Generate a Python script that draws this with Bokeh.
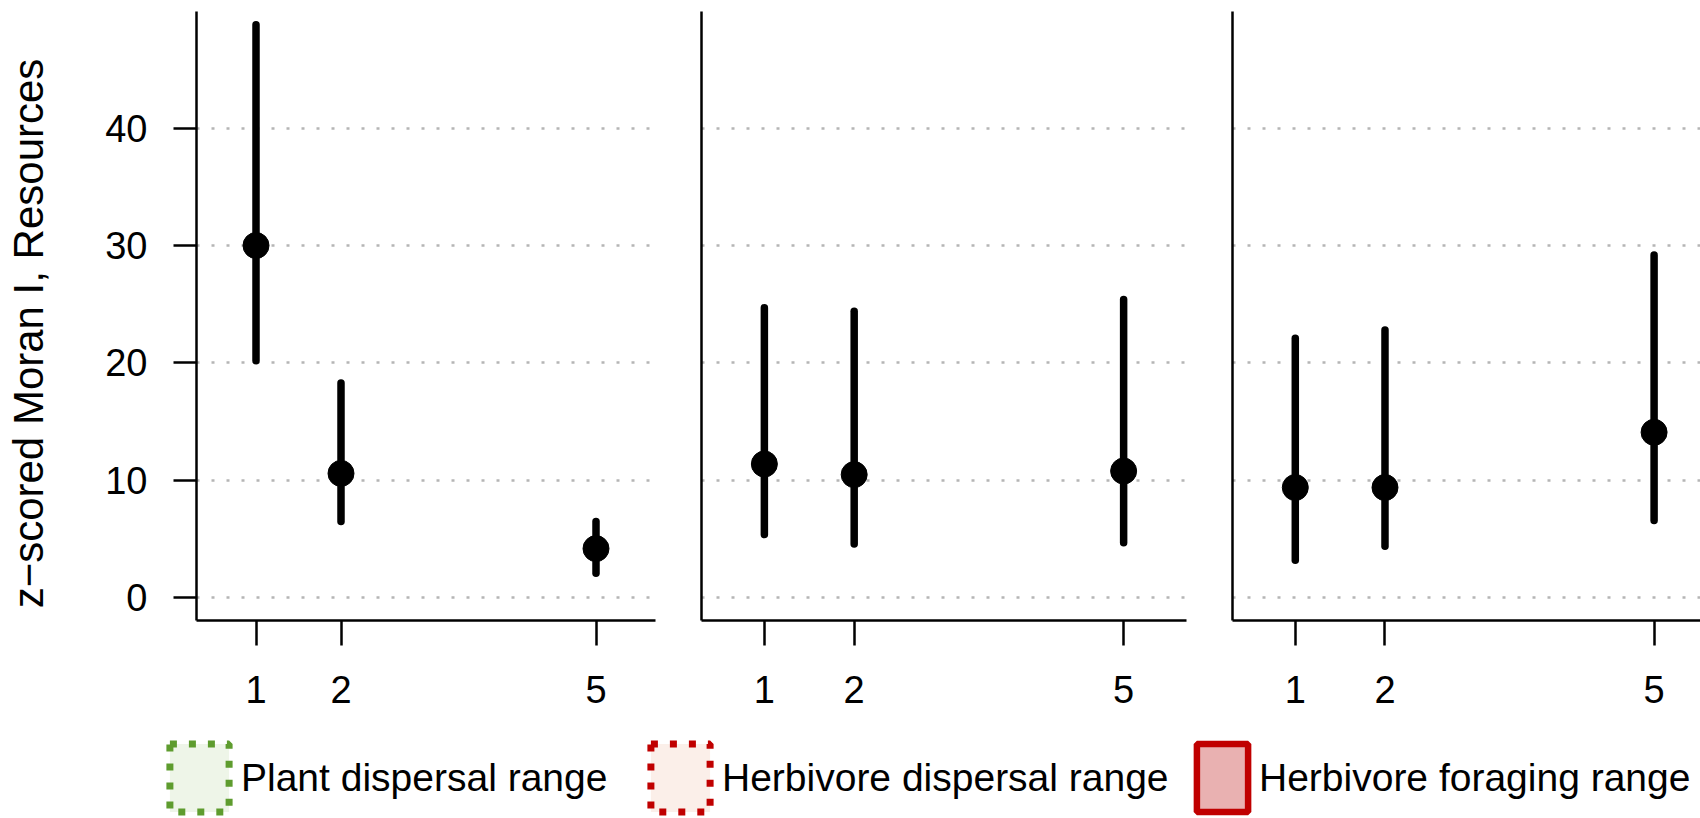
from bokeh.plotting import figure
from bokeh.models import Range1d, FixedTicker, ColumnDataSource, Legend, LegendItem
from bokeh.layouts import column, row
from bokeh.embed import file_html
from bokeh.resources import INLINE

# ---------------- data ----------------
x_levels = [1, 2, 5]
x_tick_labels = ["1", "2", "5"]
y_ticks = [0, 10, 20, 30, 40]
y_label = "z\u2212scored Moran I, Resources"

plant_mid = [30.0, 10.6, 4.2]
plant_lo = [20.2, 6.5, 2.1]
plant_hi = [48.8, 18.3, 6.5]

herb_disp_mid = [11.4, 10.5, 10.8]
herb_disp_lo = [5.4, 4.6, 4.7]
herb_disp_hi = [24.7, 24.4, 25.4]

herb_forage_mid = [9.4, 9.4, 14.1]
herb_forage_lo = [3.2, 4.4, 6.6]
herb_forage_hi = [22.1, 22.8, 29.2]

legend_labels = ["Plant dispersal range", "Herbivore dispersal range", "Herbivore foraging range"]

FONT = "Liberation Sans"
PANEL_H = 723
LEGEND_H = 95


def panel(mid, lo, hi, width, bl, br, xend, show_y):
    p = figure(width=width, height=PANEL_H,
               x_range=Range1d(0.3, xend), y_range=Range1d(-1.92, 49.92),
               output_backend="svg", toolbar_location=None,
               min_border_left=bl, min_border_right=br,
               min_border_top=11, min_border_bottom=PANEL_H - 620)
    p.outline_line_color = None
    p.background_fill_color = "white"
    p.border_fill_color = "white"
    p.xgrid.visible = False

    p.ygrid.ticker = FixedTicker(ticks=y_ticks)
    p.ygrid.grid_line_color = "#b5b5b5"
    p.ygrid.grid_line_dash = "3 12"
    p.ygrid.grid_line_width = 2.5

    xa = p.xaxis[0]
    xa.ticker = FixedTicker(ticks=x_levels)
    xa.major_label_overrides = {v: s for v, s in zip(x_levels, x_tick_labels)}
    xa.axis_line_width = 2.5
    xa.axis_line_color = "black"
    xa.major_tick_line_width = 2.5
    xa.major_tick_out = 25
    xa.major_tick_in = 0
    xa.minor_tick_line_color = None
    xa.major_label_standoff = 30
    xa.major_label_text_font = FONT
    xa.major_label_text_font_size = "38px"
    xa.major_label_text_color = "black"

    ya = p.yaxis[0]
    ya.axis_line_width = 2.5
    ya.axis_line_color = "black"
    ya.minor_tick_line_color = None
    if show_y:
        ya.ticker = FixedTicker(ticks=y_ticks)
        ya.major_tick_line_width = 2.5
        ya.major_tick_out = 23
        ya.major_tick_in = 0
        ya.major_label_standoff = 26
        ya.major_label_text_font = FONT
        ya.major_label_text_font_size = "38px"
        ya.major_label_text_color = "black"
        # trailing no-break spaces nudge the centred title slightly downward
        ya.axis_label = y_label + "\u00a0\u00a0\u00a0"
        ya.axis_label_text_font = FONT
        ya.axis_label_text_font_size = "42px"
        ya.axis_label_text_font_style = "normal"
        ya.axis_label_text_color = "black"
        ya.axis_label_standoff = 50
    else:
        ya.ticker = FixedTicker(ticks=[])
        ya.major_tick_out = 0
        ya.major_tick_in = 0
        ya.major_label_standoff = 0

    src = ColumnDataSource(dict(x=x_levels, mid=mid, lo=lo, hi=hi))
    p.segment(x0="x", y0="lo", x1="x", y1="hi", source=src,
              line_color="black", line_width=7.5, line_cap="round")
    p.scatter(x="x", y="mid", source=src, size=26, fill_color="black",
              line_color="black", marker="circle")
    return p


p1 = panel(plant_mid, plant_lo, plant_hi, 678, 196, 23, 5.7, True)
p2 = panel(herb_disp_mid, herb_disp_lo, herb_disp_hi, 530, 23, 22, 5.7, False)
p3 = panel(herb_forage_mid, herb_forage_lo, herb_forage_hi, 492, 24, 0, 0.3 + 468 / 89.7, False)

# ---------------- legend strip ----------------
lg = figure(width=1700, height=LEGEND_H, output_backend="svg", toolbar_location=None,
            x_range=Range1d(0, 1), y_range=Range1d(0, 1),
            x_axis_location=None, y_axis_location=None, min_border=0)
lg.outline_line_color = None
lg.grid.visible = False
lg.background_fill_color = "white"
lg.border_fill_color = "white"

styles = [
    dict(fill_color="#eef5e8", line_color="#5e9c2e", line_width=7, line_dash="7 12"),
    dict(fill_color="#fbefe9", line_color="#c00000", line_width=7, line_dash="7 12"),
    dict(fill_color="#e9b1b1", line_color="#c00000", line_width=6.5, line_dash="solid"),
]
legend_x = [162, 643, 1190]
glyph_w = [74, 74, 64]
for lab, st, lx, gw in zip(legend_labels, styles, legend_x, glyph_w):
    # off-screen key glyph: only its legend swatch is visible
    src = ColumnDataSource(dict(l=[5.0], r=[6.0], t=[6.0], b=[5.0]))
    r = lg.quad(left="l", right="r", top="t", bottom="b", source=src, **st)
    leg = Legend(items=[LegendItem(label=lab, renderers=[r])], location=(lx, -2),
                 orientation="horizontal", glyph_width=gw, glyph_height=85,
                 label_standoff=5, padding=0, margin=0, spacing=0,
                 border_line_color=None, background_fill_alpha=0,
                 label_text_font=FONT, label_text_font_size="39px",
                 label_text_color="black")
    lg.add_layout(leg)

layout = column(row(p1, p2, p3), lg)
open("out.html", "w").write(file_html(layout, INLINE))
